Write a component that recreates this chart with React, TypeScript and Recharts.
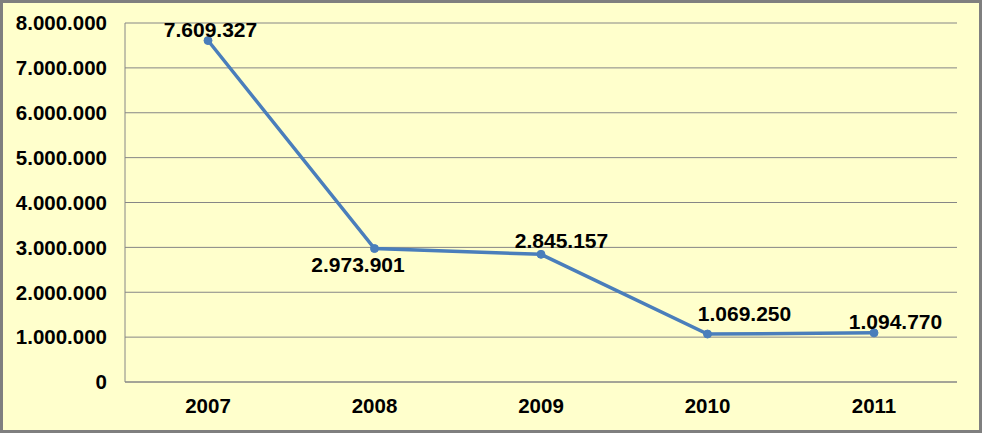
import { LineChart, Line, XAxis, YAxis, CartesianGrid } from 'recharts';

const years = ['2007', '2008', '2009', '2010', '2011'];
const amounts = [7609327, 2973901, 2845157, 1069250, 1094770];
const yTicks = [0, 1000000, 2000000, 3000000, 4000000, 5000000, 6000000, 7000000, 8000000];

const data = years.map((year, i) => ({ year, amount: amounts[i] }));

// where each value label sits relative to its point (text centre)
const labelShift = [
  { dx: 2.5, dy: -11 },
  { dx: -16.5, dy: 15.5 },
  { dx: 20.5, dy: -14 },
  { dx: 37, dy: -20.5 },
  { dx: 21.5, dy: -11.5 },
];

const FONT = "Arial, 'Liberation Sans', sans-serif";
const GRID = '#868686';
const BLUE = '#4A7EBB';

// 7609327 -> 7.609.327
const dotted = (v: number) => String(Math.round(v)).replace(/\B(?=(\d{3})+(?!\d))/g, '.');

function ValueLabel(props: any) {
  const { x, y, value } = props;
  const idx = props.index ?? amounts.indexOf(value);
  const s = labelShift[idx] || { dx: 0, dy: -12 };
  return (
    <text
      x={x + s.dx}
      y={y + s.dy}
      dy="0.355em"
      textAnchor="middle"
      fontFamily={FONT}
      fontWeight="bold"
      fontSize={21}
      fill="#000"
    >
      {dotted(value)}
    </text>
  );
}

export default function App() {
  return (
    <div
      style={{
        position: 'absolute',
        top: 0,
        left: 0,
        width: 982,
        height: 433,
        boxSizing: 'border-box',
        border: '3px solid #7f7f7f',
        background: '#FFFFCC',
      }}
    >
      <LineChart width={976} height={427} data={data} margin={{ top: 20, right: 22, left: 0, bottom: 0 }}>
        <CartesianGrid vertical={false} stroke={GRID} strokeWidth={1} />
        <XAxis
          dataKey="year"
          height={48}
          padding={{ left: 83, right: 83 }}
          axisLine={{ stroke: GRID }}
          tickLine={false}
          tickSize={0}
          tickMargin={16}
          tick={{ fill: '#000', fontSize: 20.5, fontWeight: 'bold', fontFamily: FONT }}
        />
        <YAxis
          width={122}
          domain={[0, 8000000]}
          ticks={yTicks}
          interval={0}
          tickFormatter={dotted}
          axisLine={{ stroke: GRID }}
          tickLine={false}
          tickSize={0}
          tickMargin={18}
          tick={{ fill: '#000', fontSize: 20.5, fontWeight: 'bold', fontFamily: FONT }}
        />
        <Line
          type="linear"
          dataKey="amount"
          stroke={BLUE}
          strokeWidth={3.5}
          dot={{ r: 4, fill: BLUE, stroke: BLUE, strokeWidth: 1 }}
          activeDot={false}
          label={<ValueLabel />}
          isAnimationActive={false}
        />
      </LineChart>
    </div>
  );
}
